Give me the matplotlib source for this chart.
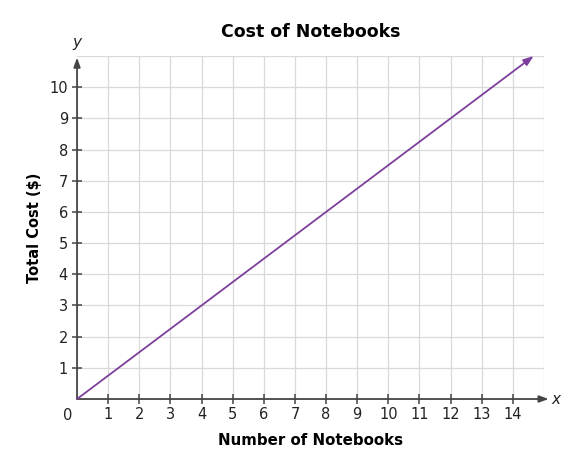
"""
Cost of Notebooks - line graph
"""
import matplotlib
matplotlib.use('Agg')
import matplotlib.pyplot as plt
import numpy as np

plt.rcParams['font.family'] = 'DejaVu Sans'

# data
notebooks = [0, 14.667]
total_cost = [0, 11]
x_ticks = list(range(1, 15))
y_ticks = list(range(1, 11))
x_max, y_max = 15, 11

line_color = '#7D3F9C'
axis_color = '#444444'
grid_color = '#D9D9D9'

fig = plt.figure(figsize=(5.71, 4.63), dpi=100)
ax = fig.add_axes([0.1349, 0.1382, 0.8178, 0.7408])

ax.set_xlim(0, x_max)
ax.set_ylim(0, y_max)

# grid
for gx in range(1, x_max + 1):
    ax.axvline(gx, color=grid_color, lw=0.9, zorder=0)
for gy in range(1, y_max + 1):
    ax.axhline(gy, color=grid_color, lw=0.9, zorder=0)

for s in ['top', 'right', 'left', 'bottom']:
    ax.spines[s].set_visible(False)

# axes with arrows
ax.annotate('', xy=(x_max + 0.15, 0), xytext=(0, 0), annotation_clip=False,
            arrowprops=dict(arrowstyle='-|>,head_length=0.55,head_width=0.2',
                            color=axis_color, lw=1.3, shrinkA=0, shrinkB=0))
ax.annotate('', xy=(0, y_max - 0.05), xytext=(0, 0), annotation_clip=False,
            arrowprops=dict(arrowstyle='-|>,head_length=0.55,head_width=0.2',
                            color=axis_color, lw=1.3, shrinkA=0, shrinkB=0))

ax.set_xticks(x_ticks)
ax.set_yticks(y_ticks)
ax.tick_params(axis='both', direction='inout', length=7, width=1.1,
               color=axis_color, labelsize=10.5, labelcolor='#222222')
ax.tick_params(axis='x', pad=2)
ax.tick_params(axis='y', pad=3)

ax.text(-0.15, -0.3, '0', ha='right', va='top', fontsize=10.5, color='#222222')
ax.text(x_max + 0.25, 0, 'x', ha='left', va='center', fontsize=11,
        style='italic', color='#222222')
ax.text(0, y_max + 0.2, 'y', ha='center', va='bottom', fontsize=11,
        style='italic', color='#222222')

# line with arrow
ax.annotate('', xy=(notebooks[-1], total_cost[-1]),
            xytext=(notebooks[0], total_cost[0]), annotation_clip=False,
            arrowprops=dict(arrowstyle='-|>,head_length=0.6,head_width=0.22',
                            color=line_color, lw=1.3, shrinkA=0, shrinkB=0))

ax.set_title('Cost of Notebooks', fontsize=12.5, fontweight='bold', pad=14)
ax.set_xlabel('Number of Notebooks', fontsize=10.8, fontweight='bold', labelpad=8)
ax.set_ylabel('Total Cost ($)', fontsize=10.5, fontweight='bold', labelpad=5)

fig.savefig('out.png', dpi=100)
